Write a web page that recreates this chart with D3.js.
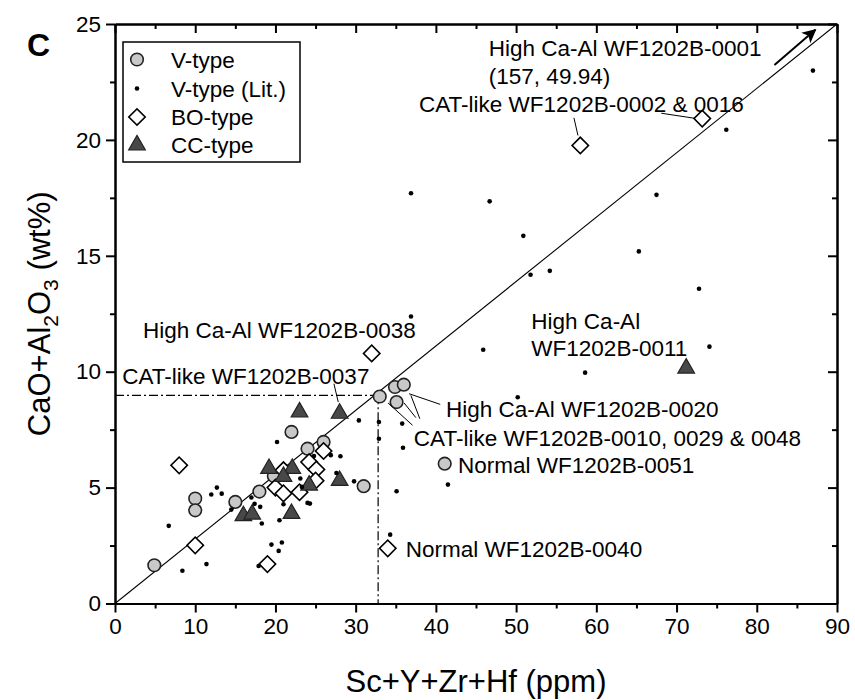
<!DOCTYPE html>
<html><head><meta charset="utf-8">
<script src="https://cdn.jsdelivr.net/npm/d3@7"></script>
<style>
body{margin:0;background:#fff}
svg{display:block}
text{font-family:"Liberation Sans",Arial,sans-serif;fill:#000}
</style>
</head><body>
<svg id="c" width="855" height="700"></svg>
<script>
// ---- data ----
const vTypeX = [4.9,10,10,15,18,19.8,22,24,26,31,33,34.9,36,35.1,41.1];
const vTypeY = [1.65,4.53,4.02,4.38,4.83,5.5,7.4,6.68,6.97,5.06,8.93,9.34,9.44,8.69,6.03];

const litX = [6.7,8.4,11.4,12.0,12.7,13.3,14.5,17.0,17.4,18.1,18.3,17.9,19.5,20.4,20.8,20.5,21.0,20.2,23.1,23.3,24.0,24.3,24.8,26.9,28.1,27.6,29.8,30.4,32.9,32.9,35.8,35.9,35.1,34.3,41.5,50.2,58.6,45.9,36.9,36.9,46.7,50.9,51.8,54.2,65.3,67.5,72.8,74.1,76.2,87.0];
const litY = [3.35,1.41,1.70,4.70,5.0,4.74,4.05,4.57,4.3,4.17,3.45,1.62,2.54,2.27,2.63,3.59,4.28,6.97,5.39,5.03,4.34,4.31,6.36,6.4,6.35,5.63,5.27,7.9,7.83,7.11,7.76,6.72,4.84,2.97,5.13,8.9,9.96,10.95,12.38,17.7,17.35,15.86,14.18,14.35,15.19,17.63,13.58,11.08,20.44,22.99];

const boX = [8,10,19,20,21,21,23,24.2,25.1,25,26,32,34,58,73.2];
const boY = [5.96,2.51,1.7,5.0,4.75,5.75,4.8,6.1,5.78,5.3,6.58,10.79,2.38,19.76,20.92];

const ccX = [23,28,19.2,22.1,21,24.2,28,16,17.1,22,71.2];
const ccY = [8.26,8.2,5.82,5.82,5.48,5.1,5.3,3.78,3.85,3.88,10.15];

const xMajor = [0,10,20,30,40,50,60,70,80,90];
const xMinor = [5,15,25,35,45,55,65,75,85];
const yMajor = [0,5,10,15,20,25];
const yMinor = [2.5,7.5,12.5,17.5,22.5];

const refLine = [[0,0],[90,25]];
const threshold = {x:32.8, y:8.98};
const arrowPts = [[82.2,23.23],[87.3,24.75]];

const legendLabels = ["V-type","V-type (Lit.)","BO-type","CC-type"];

const annoText = [
  {t:"High Ca-Al WF1202B-0001", x:46.6, y:23.6},
  {t:"(157, 49.94)", x:46.6, y:22.42},
  {t:"CAT-like WF1202B-0002 & 0016", x:37.9, y:21.22},
  {t:"High Ca-Al WF1202B-0038", x:3.5, y:11.44},
  {t:"CAT-like WF1202B-0037", x:0.9, y:9.45},
  {t:"High Ca-Al", x:51.9, y:11.85},
  {t:"WF1202B-0011", x:51.9, y:10.68},
  {t:"High Ca-Al WF1202B-0020", x:41.25, y:8.03},
  {t:"CAT-like WF1202B-0010, 0029 & 0048", x:37.25, y:6.78},
  {t:"Normal WF1202B-0051", x:42.75, y:5.62},
  {t:"Normal WF1202B-0040", x:36.25, y:2.0}
];
const leaders = [
  [[27.29,9.48],[27.83,8.69]],
  [[57.21,20.95],[57.71,20.19]],
  [[68.1,21.15],[72.3,20.93]],
  [[36.66,9.05],[40.54,8.59]],
  [[36.88,8.98],[38.0,7.97]],
  [[36.04,8.65],[37.5,8.02]],
  [[34.04,8.65],[37.09,7.69]]
];

// ---- layout ----
const W=855,H=700;
const m={l:115,r:18,t:24,b:96.5};
const svg=d3.select("#c");
const x=d3.scaleLinear().domain([0,90]).range([m.l,W-m.r]);
const y=d3.scaleLinear().domain([0,25]).range([H-m.b,m.t]);

const zip=(a,b)=>a.map((v,i)=>[v,b[i]]);

svg.append("clipPath").attr("id","clip").append("rect")
  .attr("x",m.l).attr("y",m.t).attr("width",x(90)-m.l).attr("height",y(0)-m.t);
const plot=svg.append("g").attr("clip-path","url(#clip)");

plot.append("line").attr("x1",x(refLine[0][0])).attr("y1",y(refLine[0][1]))
  .attr("x2",x(refLine[1][0])).attr("y2",y(refLine[1][1]))
  .attr("stroke","#000").attr("stroke-width",1.1);

const dd="9,3,2,3";
plot.append("line").attr("x1",x(0)).attr("x2",x(threshold.x)).attr("y1",y(threshold.y)).attr("y2",y(threshold.y))
  .attr("stroke","#000").attr("stroke-width",1.2).attr("stroke-dasharray",dd);
plot.append("line").attr("x1",x(threshold.x)).attr("x2",x(threshold.x)).attr("y1",y(threshold.y)).attr("y2",y(0))
  .attr("stroke","#000").attr("stroke-width",1.2).attr("stroke-dasharray",dd);

svg.append("g").selectAll("line").data(leaders).join("line")
  .attr("x1",d=>x(d[0][0])).attr("y1",d=>y(d[0][1]))
  .attr("x2",d=>x(d[1][0])).attr("y2",d=>y(d[1][1]))
  .attr("stroke","#000").attr("stroke-width",1);

svg.append("defs").append("marker").attr("id","ah").attr("viewBox","0 0 10 10")
  .attr("refX",9).attr("refY",5).attr("markerWidth",18).attr("markerHeight",14)
  .attr("orient","auto").attr("markerUnits","userSpaceOnUse")
  .append("path").attr("d","M0,0 L10,5 L0,10 L2.5,5 Z").attr("fill","#000");
svg.append("line").attr("x1",x(arrowPts[0][0])).attr("y1",y(arrowPts[0][1]))
  .attr("x2",x(arrowPts[1][0])).attr("y2",y(arrowPts[1][1]))
  .attr("stroke","#000").attr("stroke-width",2).attr("marker-end","url(#ah)");

const circleSym=d3.symbol().type(d3.symbolCircle).size(125);
const diamondSym=d3.symbol().type(d3.symbolSquare).size(135);
const triSym=d3.symbol().type(d3.symbolTriangle).size(120);
const dotR=2.3;

const gMarks=plot.append("g");
gMarks.append("g").selectAll("path").data(zip(vTypeX,vTypeY)).join("path")
  .attr("d",circleSym).attr("transform",d=>`translate(${x(d[0])},${y(d[1])})`)
  .attr("fill","#c8c8c8").attr("stroke","#222").attr("stroke-width",1.6);
gMarks.append("g").selectAll("path").data(zip(boX,boY)).join("path")
  .attr("d",diamondSym).attr("transform",d=>`translate(${x(d[0])},${y(d[1])}) rotate(45)`)
  .attr("fill","#fff").attr("stroke","#000").attr("stroke-width",1.6);
gMarks.append("g").selectAll("path").data(zip(ccX,ccY)).join("path")
  .attr("d",triSym).attr("transform",d=>`translate(${x(d[0])},${y(d[1])})`)
  .attr("fill","#484848").attr("stroke","#222").attr("stroke-width",1.2);
gMarks.append("g").selectAll("circle").data(zip(litX,litY)).join("circle")
  .attr("cx",d=>x(d[0])).attr("cy",d=>y(d[1])).attr("r",dotR).attr("fill","#000");

function styleAxis(g){
  g.select(".domain").attr("stroke-width",2);
  g.selectAll(".tick line").attr("stroke-width",2);
  g.selectAll(".tick text").style("font-size","22.5px").attr("fill","#000");
}
const fmt=d3.format("d");
svg.append("g").attr("transform",`translate(0,${y(0)})`)
  .call(d3.axisBottom(x).tickValues(xMajor).tickFormat(fmt).tickSize(9).tickSizeOuter(0).tickPadding(6))
  .call(styleAxis);
svg.append("g").attr("transform",`translate(0,${y(0)})`)
  .call(d3.axisBottom(x).tickValues(xMinor).tickFormat("").tickSize(5).tickSizeOuter(0))
  .call(styleAxis);
svg.append("g").attr("transform",`translate(${x(0)},0)`)
  .call(d3.axisLeft(y).tickValues(yMajor).tickFormat(fmt).tickSize(9).tickSizeOuter(0).tickPadding(5))
  .call(styleAxis);
svg.append("g").attr("transform",`translate(${x(0)},0)`)
  .call(d3.axisLeft(y).tickValues(yMinor).tickFormat("").tickSize(5).tickSizeOuter(0))
  .call(styleAxis);
svg.append("g").attr("transform",`translate(0,${y(25)})`)
  .call(d3.axisBottom(x).tickValues(xMajor).tickFormat("").tickSize(9).tickSizeOuter(0)).call(styleAxis);
svg.append("g").attr("transform",`translate(0,${y(25)})`)
  .call(d3.axisBottom(x).tickValues(xMinor).tickFormat("").tickSize(5).tickSizeOuter(0)).call(styleAxis);
svg.append("g").attr("transform",`translate(${x(90)},0)`)
  .call(d3.axisLeft(y).tickValues(yMajor).tickFormat("").tickSize(9).tickSizeOuter(0)).call(styleAxis);
svg.append("g").attr("transform",`translate(${x(90)},0)`)
  .call(d3.axisLeft(y).tickValues(yMinor).tickFormat("").tickSize(5).tickSizeOuter(0)).call(styleAxis);

svg.append("text").attr("x",(x(0)+x(90))/2).attr("y",692).attr("text-anchor","middle")
  .style("font-size","31px").text("Sc+Y+Zr+Hf (ppm)");
const yt=svg.append("text").attr("transform",`translate(50,${(y(0)+y(25))/2}) rotate(-90)`)
  .attr("text-anchor","middle").style("font-size","31px");
yt.append("tspan").text("CaO+Al");
yt.append("tspan").text("2").style("font-size","21px").attr("dy",8);
yt.append("tspan").text("O").attr("dy",-8);
yt.append("tspan").text("3").style("font-size","21px").attr("dy",8);
yt.append("tspan").text(" (wt%)").attr("dy",-8);

svg.append("text").attr("x",27).attr("y",56).style("font-size","32px").style("font-weight","bold").text("C");

svg.append("g").selectAll("text").data(annoText).join("text")
  .attr("x",d=>x(d.x)).attr("y",d=>y(d.y)).style("font-size","22.5px").text(d=>d.t);

const lg=svg.append("g").attr("transform","translate(123,42)");
lg.append("rect").attr("width",177).attr("height",120).attr("fill","#fff").attr("stroke","#000").attr("stroke-width",1.5);
const rowY=[17.5,46.5,75,103];
lg.selectAll("text").data(legendLabels).join("text")
  .attr("x",48).attr("y",(d,i)=>rowY[i]+8).style("font-size","22.5px").text(d=>d);
lg.append("path").attr("d",circleSym).attr("transform",`translate(14,${rowY[0]})`)
  .attr("fill","#c8c8c8").attr("stroke","#222").attr("stroke-width",1.6);
lg.append("circle").attr("cx",14).attr("cy",rowY[1]).attr("r",dotR).attr("fill","#000");
lg.append("path").attr("d",diamondSym).attr("transform",`translate(14,${rowY[2]}) rotate(45)`)
  .attr("fill","#fff").attr("stroke","#000").attr("stroke-width",1.6);
lg.append("path").attr("d",triSym).attr("transform",`translate(14,${rowY[3]})`)
  .attr("fill","#484848").attr("stroke","#222").attr("stroke-width",1.2);
</script>
</body></html>
